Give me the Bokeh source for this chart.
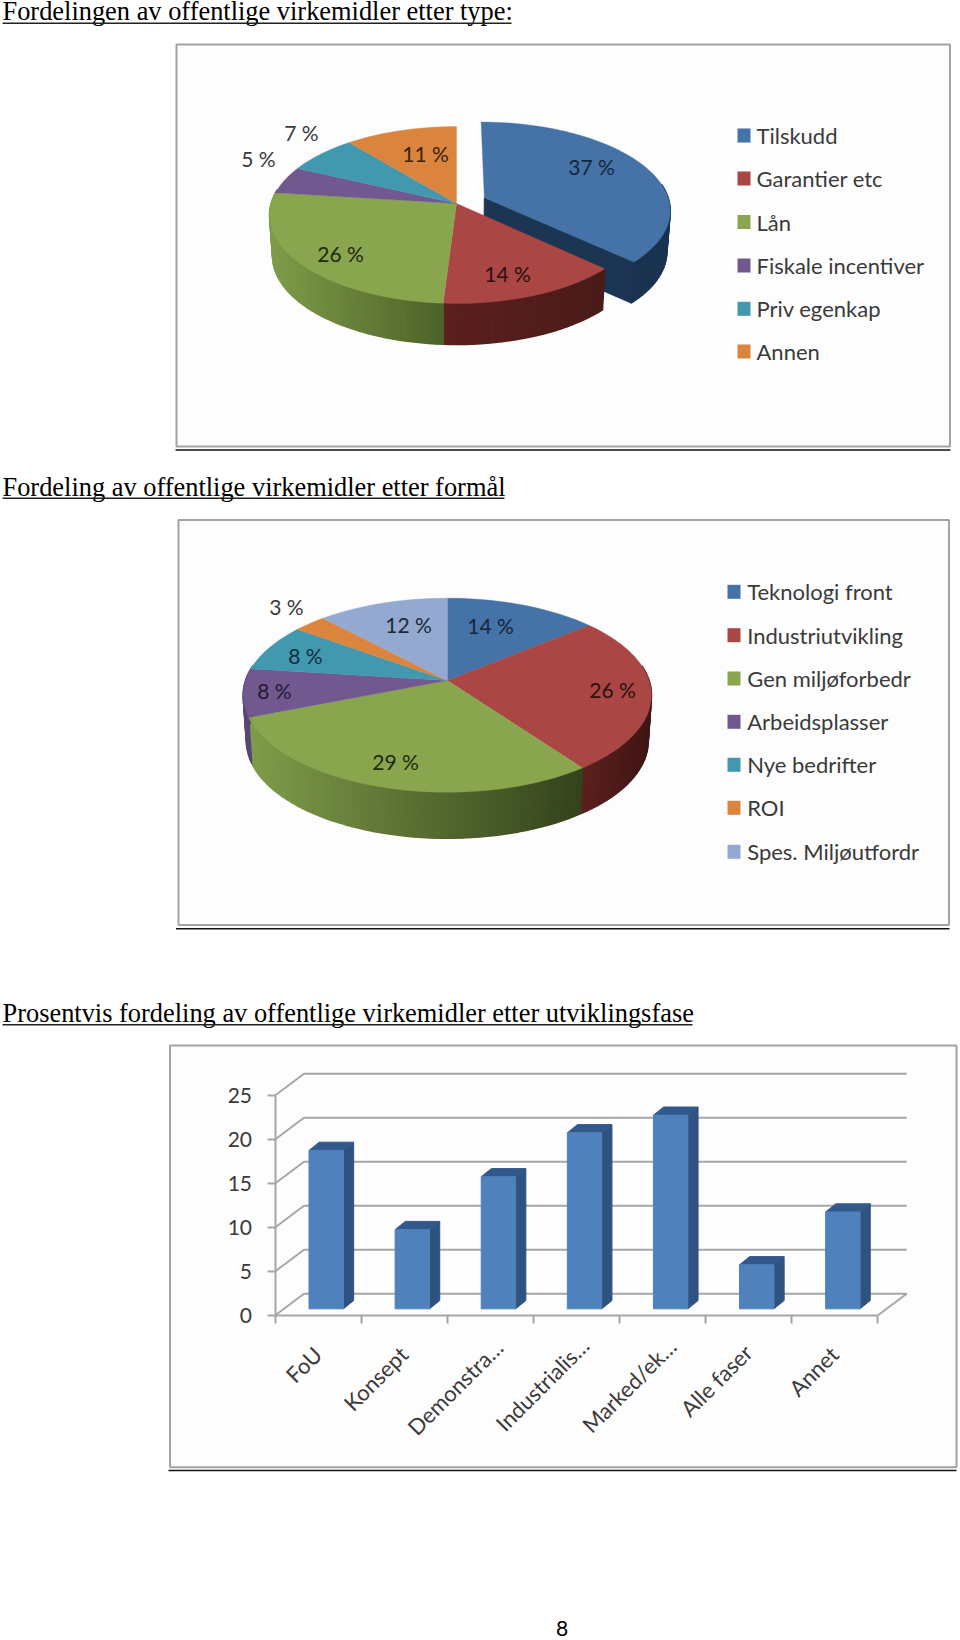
from math import sin, cos, radians
from bokeh.plotting import figure
from bokeh.layouts import column
from bokeh.models import Range1d, LinearAxis, FixedTicker
from bokeh.core.properties import value
from bokeh.embed import file_html
from bokeh.resources import INLINE

# ---------- data ----------
titles = ["Fordelingen av offentlige virkemidler etter type:",
          "Fordeling av offentlige virkemidler etter formål",
          "Prosentvis fordeling av offentlige virkemidler etter utviklingsfase"]
type_names = ["Tilskudd", "Garantier etc", "Lån", "Fiskale incentiver", "Priv egenkap", "Annen"]
type_values = [37, 14, 26, 5, 7, 11]
purpose_names = ["Teknologi front", "Industriutvikling", "Gen miljøforbedr", "Arbeidsplasser",
                 "Nye bedrifter", "ROI", "Spes. Miljøutfordr"]
purpose_values = [14, 26, 29, 8, 8, 3, 12]
phase_names = ["FoU", "Konsept", "Demonstra…", "Industrialis…", "Marked/ek…", "Alle faser", "Annet"]
phase_values = [18, 9, 15, 20, 22, 5, 11]
y_ticks = [0, 5, 10, 15, 20, 25]
page_number = "8"

# ---------- styles / layout ----------
SANS = "Lato"
SERIF = "Liberation Serif"
TXT = "#3a3a3a"
GRID = "#a6a6a6"
COL_TOP = ["#4572a7", "#aa4644", "#89a54e", "#71588f", "#4198af", "#db843d", "#93a9cf"]
WALL_L = ["#1b3553", "#5c201e", "#7f9c49", "#5a4672", "#2f7284", "#a8622c", "#6f80a0"]
WALL_R1 = ["#1a3350", "#4a1b19", "#4c6228", "#5a4672", "#2f7284", "#a8622c", "#6f80a0"]
WALL_R2 = ["#1a3350", "#3e1614", "#33421c", "#5a4672", "#2f7284", "#a8622c", "#6f80a0"]
LEGEND_FS = "22px"
PCT_FS = "21px"
AXIS_FS = "22px"
TITLE_FS = "26.4px"
LABEL_NUDGE_X = [-3, -3, 6, 6, 7, -3, -3]
LABEL_NUDGE_Y = [0, 0, -7, -9, -8, -2, 0]

def hex2rgb(h):
    return tuple(int(h[i:i + 2], 16) for i in (1, 3, 5))

def lerp(a, b, t):
    ra, rb = hex2rgb(a), hex2rgb(b)
    return "#%02x%02x%02x" % tuple(round(x + (y - x) * t) for x, y in zip(ra, rb))

def page_fig(h, y0):
    p = figure(width=960, height=h, x_range=Range1d(0, 960), y_range=Range1d(y0 + h, y0),
               x_axis_type=None, y_axis_type=None, toolbar_location=None,
               output_backend="svg", min_border=0, outline_line_color=None,
               border_fill_color="white", background_fill_color="white")
    p.grid.visible = False
    return p

def txt(p, x, y, s, size, color=TXT, font=SANS, align="left", angle=0.0):
    p.text([x], [y], text=[s], text_font=value(font), text_font_size=size, text_color=color,
           text_align=align, text_baseline="middle", angle=angle)

def heading(p, s, y_mid, y_ul, x_end):
    txt(p, 2, y_mid, s, TITLE_FS, color="#000000", font=SERIF)
    p.line([2, x_end], [y_ul, y_ul], line_color="#222222", line_width=1.5)

def panel(p, x0, x1, y0, y1, y_ul, xu0, xu1):
    p.quad(left=[x0], right=[x1], top=[y0], bottom=[y1], fill_color="#fdfdfd",
           line_color="#a3a3a3", line_width=2)
    p.line([xu0, xu1], [y_ul, y_ul], line_color="#111111", line_width=1.6)

def draw_pie(p, vals, g, wall_r, explode=None):
    cx, cy, R, Rv, k, depth = g

    def pt(th, e=(0.0, 0.0)):
        u, v = sin(th) + e[0], cos(th) + e[1]
        d = 1 + k * v
        return cx + R * u / d, cy - Rv * v / d

    def low(x, y):
        return cx + (x - cx) * 0.984, y + depth

    total = sum(vals)
    spans, acc = [], 0.0
    for v in vals:
        spans.append((radians(acc / total * 360), radians((acc + v) / total * 360)))
        acc += v

    def wall(i, e):
        a0, a1 = spans[i]
        n = max(2, int((a1 - a0) / radians(2)))
        ths = [a0 + (a1 - a0) * j / n for j in range(n + 1)]
        xy = [pt(t, e) for t in ths]
        xs = [q[0] for q in xy]
        mn, mx = min(xs), max(xs)
        for j in range(n):
            if cos(ths[j]) > 0.15 and cos(ths[j + 1]) > 0.15:
                continue
            (x0, y0), (x1, y1) = xy[j], xy[j + 1]
            lx0, ly0 = low(x0, y0)
            lx1, ly1 = low(x1, y1)
            t = ((x0 + x1) / 2 - mn) / ((mx - mn) or 1)
            c = lerp(WALL_L[i], wall_r[i], t)
            p.patch([x0, x1, lx1, lx0], [y0, y1, ly1, ly0], fill_color=c, line_color=c, line_width=1.5)

    def top(i, e):
        a0, a1 = spans[i]
        n = max(2, int((a1 - a0) / radians(2)))
        xy = [pt(a0 + (a1 - a0) * j / n, e) for j in range(n + 1)]
        d = 1 + k * e[1]
        vx = cx + R * e[0] / d
        vy = cy - Rv * e[1] / d
        p.patch([vx] + [q[0] for q in xy], [vy] + [q[1] for q in xy],
                fill_color=COL_TOP[i], line_color=COL_TOP[i], line_width=0.4)

    order = list(range(len(vals)))
    if explode is not None:
        i, mag = explode
        mid = sum(spans[i]) / 2
        e = (mag * sin(mid), mag * cos(mid))
        d = 1 + k * e[1]
        vx, vy = cx + R * e[0] / d, cy - Rv * e[1] / d
        ex, ey = pt(spans[i][1], e)
        lvx, lvy = low(vx, vy)
        lex, ley = low(ex, ey)
        p.patch([vx, ex, lex, lvx], [vy, ey, ley, lvy], fill_color=WALL_L[i], line_color=WALL_L[i])
        wall(i, e)
        top(i, e)
        order.remove(i)
    for i in order:
        wall(i, (0.0, 0.0))
    for i in order:
        top(i, (0.0, 0.0))

def legend(p, names, x_sw, x_txt, ys):
    for i, (n, y) in enumerate(zip(names, ys)):
        p.quad(left=[x_sw], right=[x_sw + 13], top=[y - 7], bottom=[y + 7],
               fill_color=COL_TOP[i], line_color=None)
        txt(p, x_txt, y, n, LEGEND_FS)

def labels(p, vals, xy, dark):
    for v, (x, y), c in zip(vals, xy, dark):
        txt(p, x, y, f"{v} %", PCT_FS, color=c, align="center")

# ---------- page part 1 ----------
p1 = page_fig(470, 0)
heading(p1, titles[0], 10.5, 22.7, 511)
panel(p1, 176, 949.5, 44, 446, 449.5, 175, 950)
draw_pie(p1, type_values, (456, 203, 185.4, 87, 0.13, 41), WALL_R1, explode=(0, 0.165))
labels(p1, type_values,
       [(591, 166), (507, 273), (340, 253), (258, 158), (301, 132), (425, 153)],
       ["#16263a", "#2c1010", "#1f2a10", TXT, TXT, "#3a210c"])
legend(p1, type_names, 737, 756, [135, 178, 221.5, 265, 308.3, 351])

# ---------- page part 2 ----------
p2 = page_fig(565, 470)
heading(p2, titles[1], 486, 497.8, 504)
panel(p2, 178, 948.5, 519.5, 924.5, 928.3, 175.5, 949)
draw_pie(p2, purpose_values, (446.8, 680, 201.8, 94.8, 0.1515, 46), WALL_R2)
labels(p2, purpose_values,
       [(490, 625), (612, 689), (395, 761), (274, 690), (305, 655), (286, 605.5), (408, 624)],
       ["#16263a", "#2c1010", "#1f2a10", "#241a30", "#10303a", TXT, "#1f2838"])
legend(p2, purpose_names, 727, 746.7, [591.3, 634.7, 678, 721.3, 764.3, 807.3, 851.3])
heading(p2, titles[2], 1012.5, 1024.3, 692)

# ---------- page part 3: the bar chart, in category / value units ----------
PX_CAT = 86.1
PX_VAL = 8.8
X0 = 274.5
Y0 = 1315.0
PAGE_TOP = 1035
PAGE_H = 605

def X(px):
    return (px - X0) / PX_CAT

def Y(py):
    return (Y0 - py) / PX_VAL

p3 = figure(width=960, height=PAGE_H, x_range=Range1d(X(0), X(960)),
            y_range=Range1d(Y(PAGE_TOP + PAGE_H), Y(PAGE_TOP)),
            x_axis_type=None, y_axis_type=None, toolbar_location=None, output_backend="svg",
            min_border=0, outline_line_color=None, border_fill_color="white",
            background_fill_color="white")
p3.grid.visible = False

p3.quad(left=[X(169.5)], right=[X(956)], top=[Y(1045)], bottom=[Y(1466.7)], fill_color="#fdfdfd",
        line_color="#a3a3a3", line_width=2)
p3.line([X(168), X(956)], [Y(1470), Y(1470)], line_color="#111111", line_width=1.6)

n_cat = len(phase_values)
DX, DY = 29 / PX_CAT, 21.7 / PX_VAL
for t in y_ticks:
    p3.line([0, DX, n_cat + DX], [t, t + DY, t + DY], line_color=GRID, line_width=2)
p3.line([n_cat, n_cat + DX], [0, DY], line_color=GRID, line_width=2)

FX, FY = 0.095, 6.7 / PX_VAL     # bars stand a little behind the floor's front edge
BW = 0.4
BDX, BDY = 10.2 / PX_CAT, 8.2 / PX_VAL
for i, v in enumerate(phase_values):
    l = i + 0.5 + FX - BW / 2
    r = l + BW
    b = FY
    t = v + FY
    p3.patch([r, r + BDX, r + BDX, r], [b, b + BDY, t + BDY, t], fill_color="#2f5380", line_color="#2f5380")
    p3.patch([l, r, r + BDX, l + BDX], [t, t, t + BDY, t + BDY], fill_color="#33598c", line_color="#33598c")
    p3.quad(left=[l], right=[r], top=[t], bottom=[b], fill_color="#4f81bd", line_color="#4f81bd")

yax = LinearAxis(fixed_location=0, ticker=FixedTicker(ticks=y_ticks), bounds=(0, 25))
yax.axis_line_color = GRID
yax.axis_line_width = 2
yax.major_tick_line_color = GRID
yax.major_tick_line_width = 2
yax.major_tick_in = 0
yax.major_tick_out = 8
yax.minor_tick_line_color = None
yax.major_label_standoff = 15
yax.major_label_text_font = SANS
yax.major_label_text_font_size = "21px"
yax.major_label_text_color = TXT
p3.add_layout(yax, "left")

xax = LinearAxis(fixed_location=0, ticker=FixedTicker(ticks=list(range(n_cat + 1))), bounds=(0, n_cat))
xax.axis_line_color = GRID
xax.axis_line_width = 2
xax.major_tick_line_color = GRID
xax.major_tick_line_width = 2
xax.major_tick_in = 0
xax.major_tick_out = 8
xax.minor_tick_line_color = None
xax.major_label_text_color = None
xax.major_label_text_font_size = "1px"
p3.add_layout(xax, "below")

p3.text([i + 0.53 + LABEL_NUDGE_X[i] / PX_CAT for i in range(n_cat)],
        [Y(1350 + LABEL_NUDGE_Y[i]) for i in range(n_cat)], text=phase_names,
        text_font=value(SANS), text_font_size=AXIS_FS, text_color=TXT,
        text_align="right", text_baseline="middle", angle=radians(45))

p3.text([X(561.5)], [Y(1628)], text=[page_number], text_font=value(SANS), text_font_size="21px",
        text_color="#000000", text_align="center", text_baseline="middle")

page = column(p1, p2, p3, spacing=0)
open("out.html", "w").write(file_html(page, INLINE))
